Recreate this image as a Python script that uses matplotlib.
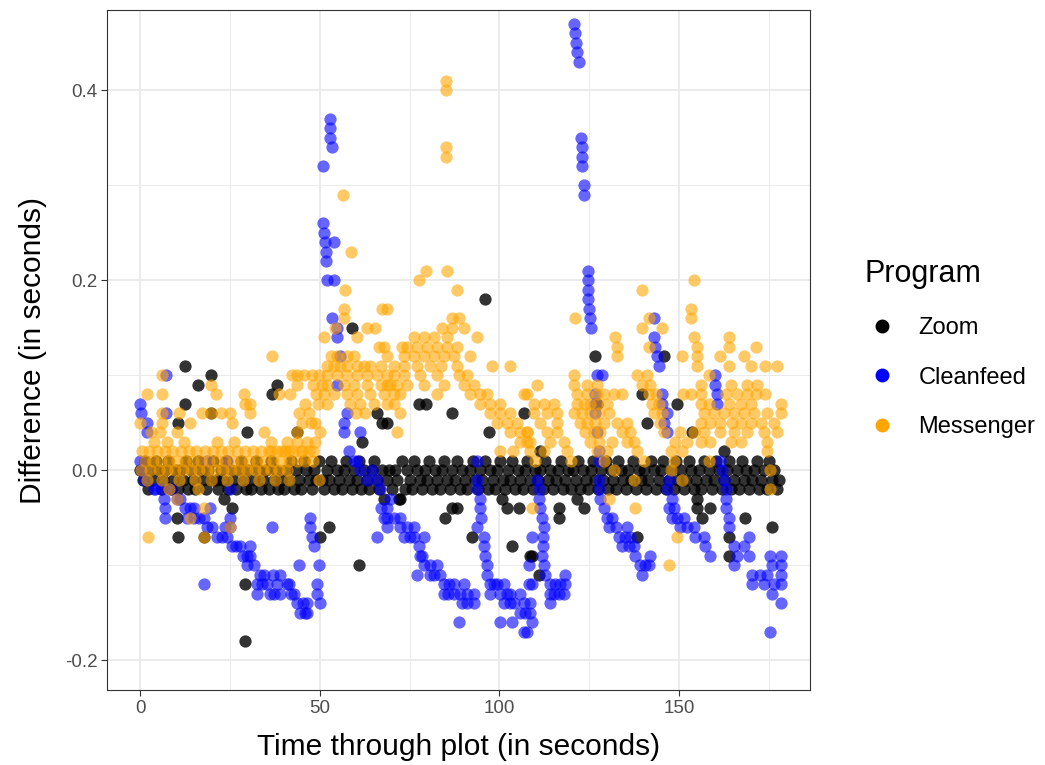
"""Scatter of timing differences for three call programs."""

import matplotlib

matplotlib.use("Agg")
import matplotlib.pyplot as plt
from matplotlib.lines import Line2D

plt.rcParams["font.family"] = ["Liberation Sans", "DejaVu Sans"]

# (time through plot in s, difference in s)
zoom_band = [
    (0.1, 0.00), (0.7, -0.01), (1.5, 0.01), (2.2, -0.02), (2.8, 0.00), (3.6, -0.01), (4.3, 0.01), (4.9, 0.00),
    (5.7, -0.02), (6.4, -0.01), (7.0, 0.00), (7.8, 0.01), (8.5, -0.02), (9.1, -0.01), (9.9, 0.00),
    (10.6, -0.02), (11.2, 0.00), (12.0, -0.01), (12.7, 0.01), (13.3, -0.02), (14.1, 0.00), (14.8, -0.01),
    (15.4, -0.02), (16.2, 0.01), (16.9, 0.00), (17.5, -0.01), (18.3, -0.02), (19.0, 0.00), (19.6, -0.01),
    (20.4, 0.01), (21.1, -0.01), (21.7, -0.02), (22.5, 0.00), (23.2, -0.01), (23.8, 0.01), (24.6, -0.02),
    (25.3, 0.00), (25.9, -0.01), (26.7, -0.02), (27.4, 0.00), (28.0, 0.01), (28.8, -0.01), (29.5, -0.02),
    (30.1, 0.00), (30.9, -0.02), (31.6, -0.01), (32.2, 0.01), (33.0, 0.00), (33.7, -0.02), (34.3, -0.01),
    (35.1, 0.00), (35.8, -0.02), (36.4, 0.01), (37.2, -0.01), (37.9, 0.00), (38.5, -0.02), (39.3, -0.01),
    (40.0, -0.02), (40.6, 0.00), (41.4, -0.01), (42.1, 0.01), (42.7, -0.02), (43.5, 0.00), (44.2, -0.01),
    (44.8, -0.02), (45.6, 0.01), (46.3, 0.00), (46.9, -0.01), (47.7, -0.02), (48.4, 0.00), (49.0, -0.01),
    (49.8, 0.01), (50.5, -0.01), (51.1, -0.02), (51.9, 0.00), (52.6, -0.01), (53.2, 0.01), (54.0, -0.02),
    (54.7, 0.00), (55.3, -0.01), (56.1, -0.02), (56.8, 0.00), (57.4, 0.01), (58.2, -0.01), (58.9, -0.02),
    (59.5, 0.00), (60.3, -0.01), (61.0, 0.01), (61.6, -0.02), (62.4, 0.00), (63.1, -0.01), (63.7, -0.02),
    (64.5, 0.00), (65.2, 0.01), (65.8, -0.01), (66.6, -0.02), (67.3, 0.00), (67.9, -0.03), (68.7, -0.01),
    (69.4, 0.00), (70.0, -0.02), (70.8, 0.00), (71.5, -0.01), (72.1, -0.03), (72.9, 0.01), (73.6, -0.02),
    (74.2, 0.00), (75.0, -0.01), (75.7, -0.02), (76.3, 0.01), (77.1, 0.00), (77.8, -0.01), (78.4, -0.02),
    (79.2, 0.00), (79.9, -0.01), (80.5, 0.01), (81.3, -0.02), (82.0, 0.00), (82.6, -0.01), (83.4, -0.02),
    (84.1, 0.00), (84.7, 0.01), (85.5, -0.01), (86.2, -0.02), (86.8, 0.00), (87.6, -0.01), (88.3, 0.01),
    (88.9, -0.02), (89.7, 0.00), (90.4, -0.01), (91.0, -0.02), (91.8, 0.00), (92.5, 0.01), (93.1, -0.01),
    (93.9, -0.02), (94.6, 0.00), (95.2, -0.01), (96.0, 0.01), (96.7, -0.02), (97.3, 0.00), (98.1, -0.01),
    (98.8, -0.02), (99.4, 0.00), (100.2, 0.01), (100.9, -0.01), (101.5, -0.02), (102.3, 0.00), (103.0, -0.01),
    (103.6, 0.01), (104.4, -0.02), (105.1, 0.00), (105.7, -0.01), (106.5, -0.02), (107.2, 0.00), (107.8, 0.01),
    (108.6, -0.01), (109.3, -0.02), (109.9, 0.00), (110.7, -0.01), (111.4, 0.00), (112.0, -0.02), (112.8, 0.01),
    (113.5, -0.01), (114.1, 0.00), (114.9, -0.02), (115.6, -0.01), (116.2, 0.00), (117.0, 0.01), (117.7, -0.02),
    (118.3, -0.01), (119.1, 0.00), (119.8, -0.02), (120.4, 0.00), (121.2, -0.01), (121.9, 0.01), (122.5, -0.02),
    (123.3, 0.00), (124.0, -0.01), (124.6, -0.02), (125.4, 0.00), (126.1, 0.01), (126.7, -0.01), (127.5, -0.02),
    (128.2, 0.00), (128.8, -0.01), (129.6, 0.01), (130.3, -0.02), (130.9, 0.00), (131.7, -0.01), (132.4, -0.02),
    (133.0, 0.01), (133.8, 0.00), (134.5, -0.01), (135.1, -0.02), (135.9, 0.00), (136.6, -0.01), (137.2, 0.01),
    (138.0, -0.02), (138.7, 0.00), (139.3, -0.01), (140.1, 0.00), (140.8, -0.02), (141.4, -0.01), (142.2, 0.01),
    (142.9, 0.00), (143.5, -0.02), (144.3, -0.01), (145.0, 0.00), (145.6, 0.01), (146.4, -0.02), (147.1, -0.01),
    (147.7, 0.00), (148.5, -0.02), (149.2, 0.01), (149.8, -0.01), (150.6, 0.00), (151.3, -0.02), (151.9, -0.01),
    (152.7, 0.01), (153.4, 0.00), (154.0, -0.02), (154.8, -0.01), (155.5, 0.00), (156.1, -0.02), (156.9, 0.01),
    (157.6, -0.01), (158.2, 0.00), (159.0, -0.02), (159.7, -0.01), (160.3, 0.01), (161.1, 0.00), (161.8, -0.02),
    (162.4, -0.01), (163.2, 0.00), (163.9, 0.01), (164.5, -0.02), (165.3, -0.01), (166.0, 0.00), (166.6, -0.02),
    (167.4, 0.01), (168.1, -0.01), (168.7, 0.00), (169.5, -0.02), (170.2, -0.01), (170.8, 0.00), (171.6, 0.01),
    (172.3, -0.02), (172.9, -0.01), (173.7, 0.00), (174.4, -0.02), (175.0, 0.01), (175.8, -0.01), (176.5, 0.00),
    (177.1, -0.02), (177.9, -0.01),
]

zoom_outliers = [
    (12.5, 0.11), (19.8, 0.10), (16.1, 0.09), (12.5, 0.07), (10.6, 0.05), (19.8, 0.06), (38.1, 0.09),
    (36.7, 0.08), (59.0, 0.15), (65.9, 0.06), (67.3, 0.05), (61.8, 0.03), (29.8, 0.04), (43.7, 0.04),
    (96.0, 0.18), (77.6, 0.07), (79.6, 0.07), (86.8, 0.06), (97.1, 0.04), (106.8, 0.06), (68.7, 0.05),
    (126.6, 0.12), (139.7, 0.08), (145.8, 0.12), (127.2, 0.07), (141.1, 0.05), (111.3, 0.02), (149.4, 0.07),
    (153.6, 0.04), (162.5, 0.02),
    (10.6, -0.07), (25.6, -0.04), (23.4, -0.03), (10.3, -0.05), (29.2, -0.12), (29.2, -0.18), (17.8, -0.07),
    (52.6, -0.06), (50.1, -0.07), (60.9, -0.10), (86.8, -0.04), (88.2, -0.04), (84.9, -0.05), (92.4, -0.07),
    (103.5, -0.08), (100.7, -0.03), (102.1, -0.04), (105.5, -0.04), (108.5, -0.09), (72.3, -0.03),
    (116.6, -0.04), (116.6, -0.05), (121.6, -0.03), (123.5, -0.04), (109.1, -0.09), (111.0, -0.11),
    (138.3, -0.07), (155.0, -0.03), (155.0, -0.04), (158.6, -0.04), (156.4, -0.05), (168.3, -0.05),
    (175.8, -0.06), (163.9, -0.09), (163.9, -0.07),
]

cleanfeed_early = [
    (0.0, 0.07), (0.2, 0.06), (1.9, 0.05), (1.9, 0.04), (0.0, 0.01), (0.6, 0.00), (1.1, -0.01), (3.9, -0.02),
    (6.1, -0.02), (7.2, 0.10), (7.2, 0.06), (4.2, -0.02), (6.7, -0.03), (7.0, -0.04), (7.0, -0.05),
    (8.5, -0.02), (10.3, -0.03), (11.2, -0.03), (12.5, -0.04), (13.1, -0.05), (14.0, -0.04), (15.0, -0.04),
    (15.0, -0.05), (16.4, -0.05), (17.8, -0.05), (18.6, -0.06), (19.5, -0.04), (20.0, -0.06), (21.4, -0.07),
    (22.7, -0.07), (23.5, -0.06), (24.2, -0.07), (25.0, -0.05), (25.0, -0.06), (25.6, -0.08), (26.7, -0.08),
    (27.8, -0.08), (28.6, -0.09), (29.8, -0.09), (29.8, -0.10), (17.8, -0.12), (18.6, 0.01), (24.2, 0.01),
    (25.0, -0.02),
    (30.6, -0.08), (30.6, -0.09), (31.7, -0.10), (34.5, -0.11), (39.0, -0.11), (33.5, -0.11), (37.0, -0.11),
    (32.6, -0.12), (33.8, -0.12), (35.3, -0.12), (38.1, -0.12), (40.9, -0.12), (41.5, -0.12), (32.6, -0.13),
    (36.2, -0.13), (37.2, -0.13), (39.0, -0.13), (42.0, -0.13), (42.8, -0.13), (43.7, -0.14), (45.2, -0.14),
    (46.5, -0.14), (44.5, -0.15), (45.8, -0.15), (46.5, -0.15), (49.2, -0.12), (49.2, -0.13), (50.1, -0.14),
    (44.2, -0.10), (49.8, -0.10), (36.7, -0.06), (47.3, -0.05), (47.3, -0.06), (47.9, -0.07), (48.4, -0.08),
]

cleanfeed_mid = [
    (50.9, 0.32), (50.9, 0.26), (51.2, 0.25), (51.5, 0.24), (51.8, 0.23), (51.8, 0.22), (52.0, 0.20),
    (52.9, 0.37), (52.9, 0.36), (52.9, 0.35), (53.4, 0.34), (54.0, 0.24), (54.0, 0.20), (53.4, 0.16),
    (54.8, 0.15), (54.8, 0.14), (55.6, 0.12), (54.8, 0.09), (57.6, 0.06), (56.8, 0.05), (56.8, 0.04),
    (61.2, 0.04), (58.2, 0.02), (59.5, 0.01), (60.3, 0.01), (61.2, 0.00), (64.5, 0.00), (63.2, -0.01),
    (65.9, -0.01), (66.8, -0.02), (66.9, -0.04), (67.8, -0.05), (68.7, -0.06), (65.9, -0.07), (68.7, -0.04),
    (68.7, -0.05), (69.5, -0.03), (70.7, -0.05), (72.3, -0.05), (72.3, -0.06), (74.3, -0.06), (76.2, -0.06),
    (73.5, -0.07), (75.0, -0.07), (76.2, -0.07), (79.0, -0.07), (77.6, -0.08), (77.9, -0.09), (78.5, -0.09),
    (79.0, -0.10), (80.7, -0.10), (82.6, -0.10), (77.1, -0.11), (80.7, -0.11), (81.8, -0.11), (83.5, -0.11),
    (84.6, -0.12), (86.0, -0.12), (87.4, -0.12), (90.2, -0.12), (84.6, -0.13), (85.8, -0.13), (87.4, -0.13),
    (89.0, -0.13), (91.0, -0.13), (92.9, -0.13), (89.5, -0.14), (91.0, -0.14), (92.9, -0.14), (88.8, -0.16),
    (93.8, 0.01), (93.8, -0.01), (93.8, -0.02), (94.6, -0.03), (94.6, -0.04), (95.0, -0.05), (93.8, -0.06),
    (95.7, -0.07), (95.7, -0.08), (96.0, -0.09), (96.5, -0.10), (96.5, -0.11), (97.4, -0.12), (98.4, -0.12),
    (99.3, -0.12), (101.3, -0.12), (97.4, -0.13), (100.2, -0.13), (102.2, -0.13), (102.9, -0.13),
    (105.7, -0.13), (101.3, -0.14), (103.0, -0.14), (104.1, -0.14), (106.8, -0.14), (105.7, -0.15),
    (107.2, -0.15), (108.5, -0.15), (100.2, -0.16), (103.5, -0.16), (106.8, -0.17), (108.5, -0.14),
    (109.1, -0.16), (107.7, -0.17), (108.2, -0.10), (108.2, -0.12),
    (110.5, -0.01), (111.0, -0.02), (111.0, -0.03), (111.4, -0.04), (111.9, -0.05), (112.4, -0.06),
    (109.1, -0.07), (112.0, -0.07), (112.0, -0.08), (111.9, -0.09), (112.4, -0.10), (112.7, -0.11),
    (114.1, -0.12), (115.5, -0.12), (116.9, -0.12), (118.3, -0.12), (114.1, -0.13), (115.3, -0.13),
    (116.6, -0.13), (118.0, -0.13), (114.1, -0.14), (118.3, -0.11), (109.1, -0.12),
]

cleanfeed_late = [
    (120.8, 0.47), (121.1, 0.46), (121.3, 0.45), (121.7, 0.44), (122.0, 0.43), (122.7, 0.35), (122.9, 0.34),
    (123.1, 0.33), (123.1, 0.32), (123.4, 0.30), (123.6, 0.29), (124.5, 0.21), (124.6, 0.20), (124.7, 0.19),
    (124.7, 0.18), (124.8, 0.17), (125.1, 0.16), (125.5, 0.15), (127.2, 0.10), (128.5, 0.10), (126.7, 0.08),
    (126.7, 0.07), (126.7, 0.06), (127.2, 0.04), (127.6, 0.02), (127.6, 0.01), (127.6, -0.01),
    (127.6, -0.02), (128.1, -0.03), (129.0, -0.04), (129.9, -0.05), (131.2, -0.05), (130.4, -0.06),
    (132.3, -0.06), (135.5, -0.06), (133.2, -0.07), (134.8, -0.07), (136.4, -0.07), (134.1, -0.08),
    (136.0, -0.08), (137.4, -0.08), (137.8, -0.09), (142.0, -0.09), (139.2, -0.10), (140.5, -0.10),
    (141.5, -0.10), (139.7, -0.11),
    (142.9, 0.16), (142.9, 0.14), (143.4, 0.13), (143.8, 0.12), (144.3, 0.11), (145.2, 0.08), (145.2, 0.07),
    (146.6, 0.06), (145.7, 0.05), (146.6, 0.04), (147.1, -0.01), (146.6, -0.02), (147.2, -0.04),
    (148.0, -0.03), (148.5, -0.04), (148.0, -0.05), (149.4, -0.05), (151.3, -0.05), (150.3, -0.06),
    (152.2, -0.06), (154.1, -0.06), (154.5, -0.07), (156.8, -0.07), (157.3, -0.08), (158.7, -0.09),
    (160.1, 0.10), (160.1, 0.09), (160.5, 0.08), (160.5, 0.07), (161.5, 0.01), (161.9, 0.00), (162.4, -0.01),
    (162.9, -0.02), (162.9, -0.03), (163.0, -0.04), (163.8, -0.05), (163.8, -0.06), (165.2, -0.08),
    (168.0, -0.08), (166.1, -0.09), (169.4, -0.09), (165.2, -0.10), (169.4, -0.07), (170.3, -0.11),
    (172.6, -0.11), (174.5, -0.11), (170.3, -0.12), (173.5, -0.12), (176.3, -0.12), (178.2, -0.12),
    (175.4, -0.09), (178.2, -0.09), (178.2, -0.10), (178.2, -0.11), (175.8, -0.13), (178.2, -0.14),
    (175.8, -0.10), (175.4, -0.17),
]

messenger_early = [
    (0.5, 0.02), (2.4, 0.02), (4.6, 0.02), (6.8, 0.02), (9.0, 0.02), (11.3, 0.02), (13.5, 0.02), (15.7, 0.02),
    (18.0, 0.02), (20.2, 0.02), (22.4, 0.02), (24.6, 0.02), (26.9, 0.02), (29.1, 0.02), (31.3, 0.02),
    (33.6, 0.02), (35.8, 0.02), (38.0, 0.02), (40.2, 0.02), (42.5, 0.02), (44.7, 0.02), (47.0, 0.02),
    (1.3, 0.01), (3.5, 0.01), (5.7, 0.01), (8.0, 0.01), (10.2, 0.01), (12.4, 0.01), (14.6, 0.01), (16.9, 0.01),
    (19.1, 0.01), (21.3, 0.01), (23.6, 0.01), (25.8, 0.01), (28.0, 0.01), (30.2, 0.01), (32.5, 0.01),
    (34.7, 0.01), (36.9, 0.01), (39.2, 0.01), (41.4, 0.01), (43.6, 0.01), (45.9, 0.01), (48.1, 0.01),
    (0.2, 0.00), (2.9, 0.00), (5.2, 0.00), (7.5, 0.00), (9.6, 0.00), (12.0, 0.00), (14.1, 0.00), (16.3, 0.00),
    (18.6, 0.00), (20.8, 0.00), (23.0, 0.00), (25.2, 0.00), (27.5, 0.00), (29.7, 0.00), (31.9, 0.00),
    (34.1, 0.00), (36.4, 0.00), (38.6, 0.00), (40.8, 0.00),
    (1.8, -0.01), (6.2, -0.01), (10.8, -0.01), (15.3, -0.01), (19.7, -0.01), (24.1, -0.01), (28.6, -0.01),
    (33.0, -0.01), (37.5, -0.01), (41.3, -0.01), (49.7, -0.01),
    (3.8, 0.03), (7.5, 0.03), (12.2, 0.03), (21.4, 0.03), (26.0, 0.03), (36.5, 0.03), (40.9, 0.03),
    (43.7, 0.03), (46.5, 0.03), (48.8, 0.03),
    (6.1, 0.10), (1.9, 0.08), (6.1, 0.08), (0.0, 0.05), (6.1, 0.06), (6.1, 0.05), (10.8, 0.06), (14.0, 0.05),
    (10.3, 0.04), (17.3, 0.06), (22.4, 0.06), (25.1, 0.06), (19.8, 0.09), (21.1, 0.08), (28.8, 0.08),
    (29.3, 0.07), (25.6, 0.05), (3.0, 0.04), (5.5, 0.04), (19.8, 0.06),
    (2.2, -0.07), (17.8, -0.07), (10.3, -0.03), (13.9, -0.05), (17.8, -0.04), (25.0, -0.06), (8.0, -0.02),
    (16.0, -0.02),
    (36.7, 0.12), (42.3, 0.10), (43.7, 0.10), (45.5, 0.10), (47.9, 0.10), (49.7, 0.10), (43.7, 0.09),
    (48.0, 0.09), (41.8, 0.08), (38.6, 0.08), (49.0, 0.08), (30.7, 0.07), (30.7, 0.06), (46.0, 0.07),
    (49.4, 0.07), (44.2, 0.06), (46.9, 0.06), (48.8, 0.05), (45.0, 0.05), (47.6, 0.05), (34.4, 0.04),
    (43.7, 0.04), (50.0, 0.04), (36.3, 0.02), (39.5, 0.02), (41.5, 0.02), (45.0, 0.02), (48.2, 0.02),
]

messenger_mid = [
    (50.6, 0.09), (51.1, 0.14), (54.3, 0.15), (53.0, 0.12), (54.8, 0.12), (57.6, 0.12), (59.5, 0.12),
    (63.2, 0.15), (65.5, 0.15), (67.3, 0.17), (68.7, 0.17), (60.4, 0.14), (66.4, 0.13), (67.8, 0.13),
    (68.7, 0.12), (62.2, 0.11), (57.1, 0.19), (56.7, 0.17), (56.7, 0.16), (56.5, 0.29), (58.8, 0.23),
    (52.0, 0.11), (53.9, 0.11), (55.7, 0.11), (57.6, 0.11), (60.4, 0.11), (64.1, 0.11), (66.9, 0.11),
    (52.0, 0.10), (54.8, 0.10), (57.6, 0.10), (60.4, 0.10), (63.2, 0.10), (65.9, 0.10), (68.7, 0.10),
    (52.0, 0.09), (56.7, 0.09), (59.5, 0.09), (63.2, 0.09), (66.9, 0.09), (69.6, 0.09),
    (51.1, 0.08), (53.9, 0.08), (57.6, 0.08), (60.4, 0.08), (64.1, 0.08), (67.8, 0.08),
    (52.0, 0.07), (58.5, 0.07), (61.3, 0.07), (65.0, 0.07), (68.7, 0.07), (60.0, 0.06), (62.5, 0.06),
    (86.8, 0.16), (88.7, 0.16), (84.0, 0.15), (86.8, 0.15), (90.1, 0.15),
    (76.1, 0.14), (78.9, 0.14), (81.7, 0.14), (85.4, 0.14), (93.8, 0.14),
    (72.9, 0.13), (74.3, 0.13), (77.1, 0.13), (79.9, 0.13), (82.6, 0.13), (85.4, 0.13), (88.2, 0.13),
    (73.4, 0.12), (76.1, 0.12), (78.9, 0.12), (81.7, 0.12), (84.5, 0.12), (87.3, 0.12), (91.9, 0.12),
    (70.6, 0.11), (73.4, 0.11), (77.1, 0.11), (80.8, 0.11), (83.6, 0.11), (88.2, 0.11), (97.9, 0.11),
    (103.0, 0.11),
    (70.6, 0.10), (73.4, 0.10), (78.0, 0.10), (82.6, 0.10), (88.7, 0.10), (91.0, 0.10),
    (68.7, 0.09), (71.5, 0.09), (74.3, 0.09), (78.9, 0.09), (84.5, 0.09), (90.1, 0.09), (92.9, 0.09),
    (70.6, 0.08), (72.4, 0.08), (82.6, 0.08), (91.9, 0.08), (94.7, 0.08), (96.5, 0.08), (106.7, 0.08),
    (70.6, 0.07), (94.7, 0.07), (97.4, 0.07), (100.2, 0.07),
    (72.4, 0.06), (97.4, 0.06), (100.2, 0.06), (103.0, 0.06),
    (99.3, 0.05), (102.1, 0.05), (104.9, 0.05),
    (71.5, 0.04), (103.0, 0.04), (105.8, 0.04), (107.6, 0.04),
    (105.8, 0.03), (108.5, 0.03), (100.2, 0.02), (103.9, 0.02),
    (77.5, 0.20), (79.6, 0.21), (85.4, 0.21), (88.2, 0.19), (85.2, 0.41), (85.2, 0.40), (85.2, 0.34),
    (85.2, 0.33),
]

messenger_late = [
    (107.7, 0.08), (110.5, 0.09), (109.5, 0.07), (112.4, 0.07), (115.2, 0.07), (109.5, 0.06), (113.3, 0.06),
    (116.1, 0.06), (111.4, 0.05), (116.1, 0.05), (113.3, 0.04), (116.1, 0.04), (118.0, 0.03), (118.9, 0.02),
    (119.8, 0.01), (108.6, 0.02), (112.4, 0.02), (107.7, 0.04), (107.7, 0.03), (114.0, 0.03), (110.0, 0.01),
    (121.1, 0.16), (120.7, 0.10), (120.7, 0.09), (124.4, 0.09), (127.2, 0.09),
    (121.6, 0.08), (124.4, 0.08), (127.2, 0.08), (129.0, 0.08), (131.8, 0.08), (134.1, 0.08),
    (132.2, 0.14), (132.7, 0.13), (132.7, 0.12),
    (121.6, 0.07), (123.5, 0.07), (125.3, 0.07), (127.2, 0.07), (130.0, 0.07),
    (120.7, 0.06), (123.0, 0.06), (125.3, 0.06), (127.7, 0.06), (130.5, 0.06),
    (122.5, 0.05), (124.4, 0.05), (126.7, 0.05), (129.0, 0.05), (132.7, 0.05), (135.5, 0.05),
    (123.9, 0.04), (126.2, 0.04), (128.1, 0.04), (134.1, 0.04), (136.4, 0.04),
    (125.3, 0.03), (127.7, 0.03), (131.3, 0.03), (135.5, 0.03), (137.4, 0.03),
    (127.2, 0.02), (130.0, 0.02), (138.3, 0.02), (129.0, 0.01), (140.1, 0.01), (131.8, 0.00),
    (138.3, 0.10), (141.1, 0.10), (139.7, 0.09), (142.0, 0.09), (141.5, 0.08), (143.5, 0.08), (142.5, 0.07),
    (144.3, 0.07), (142.9, 0.06), (145.2, 0.06), (144.8, 0.05), (145.7, 0.04),
    (139.7, 0.19), (141.5, 0.16), (139.7, 0.15), (145.2, 0.15), (141.5, 0.13),
    (154.1, 0.20), (153.2, 0.17), (153.2, 0.16), (154.1, 0.14), (155.0, 0.13), (155.0, 0.12), (155.0, 0.11),
    (163.8, 0.14), (163.8, 0.13), (150.8, 0.12), (161.5, 0.12), (163.8, 0.11), (168.0, 0.12), (169.9, 0.11),
    (171.3, 0.13), (174.0, 0.11), (177.3, 0.11), (158.3, 0.10),
    (156.0, 0.09), (164.3, 0.09), (169.0, 0.09), (171.7, 0.09),
    (151.2, 0.08), (153.2, 0.08), (156.0, 0.08), (162.9, 0.08), (166.1, 0.08), (169.0, 0.08), (171.3, 0.08),
    (174.0, 0.08),
    (156.0, 0.07), (158.3, 0.07), (163.8, 0.07), (167.1, 0.07), (169.9, 0.07), (178.2, 0.07),
    (156.9, 0.06), (159.7, 0.06), (162.4, 0.06), (165.2, 0.06), (168.0, 0.06), (170.8, 0.06), (174.5, 0.06),
    (178.2, 0.06),
    (156.0, 0.05), (158.7, 0.05), (161.5, 0.05), (164.7, 0.05), (167.1, 0.05), (169.9, 0.05), (172.7, 0.05),
    (176.4, 0.05),
    (150.3, 0.04), (154.1, 0.04), (156.9, 0.04), (161.5, 0.04), (165.2, 0.04), (169.0, 0.04), (173.6, 0.04),
    (177.3, 0.04),
    (148.9, 0.03), (152.2, 0.03), (156.0, 0.03), (158.7, 0.03), (164.3, 0.03), (167.1, 0.03), (174.5, 0.03),
    (147.6, 0.02), (150.8, 0.02), (174.5, 0.02), (148.5, 0.01), (158.3, 0.01), (147.6, 0.00), (175.4, 0.00),
    (109.1, -0.04), (130.4, -0.03), (137.8, -0.04), (137.4, -0.01), (147.1, -0.10), (149.4, -0.07),
    (150.8, -0.01), (175.4, -0.02),
]

programs = ["Zoom", "Cleanfeed", "Messenger"]
colors = {"Zoom": "black", "Cleanfeed": "#0000FF", "Messenger": "#FFA500"}
alphas = {"Zoom": 0.8, "Cleanfeed": 0.6, "Messenger": 0.6}
series = {
    "Zoom": zoom_band + zoom_outliers,
    "Cleanfeed": cleanfeed_early + cleanfeed_mid + cleanfeed_late,
    "Messenger": messenger_early + messenger_mid + messenger_late,
}

fig = plt.figure(figsize=(10.45, 7.65), dpi=100)
ax = fig.add_axes([0.1024, 0.098, 0.6727, 0.8889])

for name in programs:
    t, d = zip(*series[name])
    ax.scatter(t, d, s=78, color=colors[name], alpha=alphas[name], linewidths=0, zorder=3)

ax.set_xlim(-9.2, 186.4)
ax.set_ylim(-0.2316, 0.4842)
ax.set_xticks([0, 50, 100, 150])
ax.set_xticks([25, 75, 125, 175], minor=True)
ax.set_yticks([-0.2, 0.0, 0.2, 0.4])
ax.set_yticklabels(["-0.2", "0.0", "0.2", "0.4"])
ax.set_yticks([-0.1, 0.1, 0.3], minor=True)
ax.grid(True, which="major", color="#EBEBEB", linewidth=1.4, zorder=0)
ax.grid(True, which="minor", color="#EBEBEB", linewidth=0.7, zorder=0)
ax.set_axisbelow(True)
ax.tick_params(which="major", length=4, width=0.8, color="#333333", labelcolor="#4D4D4D", labelsize=13.5, pad=3)
ax.tick_params(which="minor", length=0)
for spine in ax.spines.values():
    spine.set_color("#333333")
    spine.set_linewidth(0.8)

ax.set_xlabel("Time through plot (in seconds)", fontsize=21.5, labelpad=12)
ax.set_ylabel("Difference (in seconds)", fontsize=21.5, labelpad=13)

handles = [
    Line2D([], [], marker="o", linestyle="", color=colors[name], markersize=9) for name in programs
]
ax.legend(
    handles,
    programs,
    title="Program",
    loc="upper left",
    bbox_to_anchor=(843 / 1045, 1 - 238 / 765),
    bbox_transform=fig.transFigure,
    frameon=False,
    fontsize=17,
    title_fontsize=22,
    labelspacing=1.17,
    handletextpad=0.8,
    handlelength=1.5,
    alignment="left",
)

fig.savefig("out.png", dpi=100)
